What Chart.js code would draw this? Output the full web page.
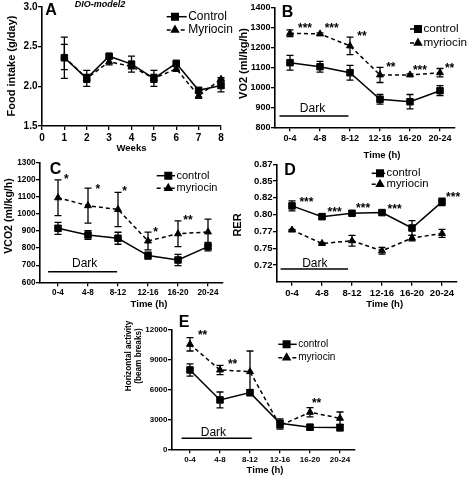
<!DOCTYPE html>
<html>
<head>
<meta charset="utf-8">
<title>DIO-model2</title>
<script src="https://cdn.jsdelivr.net/npm/chart.js@4.4.1/dist/chart.umd.min.js"></script>
<style>
  html, body { margin: 0; padding: 0; background: #fff; }
  body { position: relative; width: 469px; height: 478px; overflow: hidden; }
  canvas { position: absolute; }
</style>
</head>
<body>
<script>
// Painel A - consumo alimentar por semana
const weeks = [1, 2, 3, 4, 5, 6, 7, 8];
const weekTicks = [0, 1, 2, 3, 4, 5, 6, 7, 8];
const foodTicks = [1.5, 2.0, 2.5, 3.0];
const foodControl = [2.36, 2.10, 2.38, 2.28, 2.10, 2.29, 1.95, 2.01];
const foodControlSem = [0.26, 0.10, 0.02, 0.10, 0.10, 0.02, 0.03, 0.08];
const foodMyriocin = [2.37, 2.10, 2.31, 2.25, 2.10, 2.22, 1.88, 2.09];
const foodMyriocinSem = [0.16, 0.05, 0.04, 0.03, 0.05, 0.03, 0.03, 0.02];

// Paineis B-E - intervalos de 4 h
const timeBins = ['0-4', '4-8', '8-12', '12-16', '16-20', '20-24'];
const binIndex = timeBins.map((_, i) => i);

const vo2Ticks = [800, 900, 1000, 1100, 1200, 1300, 1400];
const vo2Control = [1123, 1103, 1073, 940, 928, 983];
const vo2ControlSem = [37, 27, 37, 24, 36, 25];
const vo2Myriocin = [1270, 1267, 1207, 1062, 1062, 1073];
const vo2MyriocinSem = [17, 5, 44, 38, 5, 21];

const vco2Ticks = [600, 700, 800, 900, 1000, 1100, 1200, 1300];
const vco2Control = [915, 876, 857, 756, 730, 808];
const vco2ControlSem = [35, 26, 35, 20, 33, 25];
const vco2Myriocin = [1093, 1047, 1025, 841, 883, 894];
const vco2MyriocinSem = [104, 102, 100, 52, 75, 75];

const rerTicks = [0.725, 0.75, 0.775, 0.8, 0.825, 0.85, 0.875];
const rerTickLabels = ['0.72', '0.75', '0.77', '0.80', '0.82', '0.85', '0.87'];
const rerControl = [0.813, 0.797, 0.802, 0.803, 0.780, 0.819];
const rerControlSem = [0.0075, 0.004, 0.002, 0.002, 0.011, 0.0055];
const rerMyriocin = [0.777, 0.757, 0.761, 0.746, 0.765, 0.772];
const rerMyriocinSem = [0.001, 0.001, 0.008, 0.005, 0.004, 0.006];

const activityTicks = [0, 3000, 6000, 9000, 12000];
const activityControl = [7980, 4965, 5700, 2620, 2220, 2185];
const activityControlSem = [620, 800, 300, 450, 290, 330];
const activityMyriocin = [10560, 7980, 7810, 2390, 3725, 3120];
const activityMyriocinSem = [670, 470, 2080, 370, 470, 630];

const FONT = "'Liberation Sans', Arial, Helvetica, sans-serif";

function series(label, xs, values, sem, dashed) {
  return {
    label, sem,
    data: values.map((v, i) => ({ x: xs[i], y: v })),
    borderColor: '#000', backgroundColor: '#000',
    borderWidth: 1.5, borderDash: dashed ? [4, 3] : [],
    pointStyle: dashed ? 'triangle' : 'rect',
    pointRadius: dashed ? 4 : 4.6, pointBorderWidth: 1,
    pointBackgroundColor: '#000', pointBorderColor: '#000',
    tension: 0, fill: false, clip: false
  };
}

// barras de erro (SEM)
const errorBars = {
  id: 'errorBars',
  afterDatasetsDraw(chart) {
    const ctx = chart.ctx, ys = chart.scales.y;
    ctx.save();
    ctx.strokeStyle = '#000';
    ctx.lineWidth = 1.3;
    chart.data.datasets.forEach((ds, i) => {
      chart.getDatasetMeta(i).data.forEach((pt, j) => {
        const v = ds.data[j].y, e = ds.sem[j];
        const top = ys.getPixelForValue(v + e), bot = ys.getPixelForValue(v - e);
        ctx.beginPath();
        ctx.moveTo(pt.x, top); ctx.lineTo(pt.x, bot);
        ctx.moveTo(pt.x - 3.5, top); ctx.lineTo(pt.x + 3.5, top);
        ctx.moveTo(pt.x - 3.5, bot); ctx.lineTo(pt.x + 3.5, bot);
        ctx.stroke();
      });
    });
    ctx.restore();
  }
};

// letra do painel, legenda, asteriscos, barra "Dark" e titulos dos eixos
function decor(p) {
  return {
    id: 'decor',
    afterDraw(chart) {
      const ctx = chart.ctx, xs = chart.scales.x, ys = chart.scales.y;
      const ox = p.box[0], oy = p.box[1];
      ctx.save();
      ctx.fillStyle = '#000';
      ctx.strokeStyle = '#000';

      ctx.font = `bold 16px ${FONT}`;
      ctx.textAlign = 'center';
      ctx.textBaseline = 'middle';
      ctx.fillText(p.letter, p.letterAt[0] - ox, p.letterAt[1] - oy);

      if (p.subtitle) {
        ctx.font = `italic bold 9px ${FONT}`;
        ctx.fillText(p.subtitle, p.subtitleAt[0] - ox, p.subtitleAt[1] - oy);
      }

      // titulos
      ctx.font = `bold 9.5px ${FONT}`;
      ctx.fillText(p.xTitle, p.xTitleAt[0] - ox, p.xTitleAt[1] - oy);
      ctx.font = `bold ${p.yTitleSize || 11}px ${FONT}`;
      const yt = Array.isArray(p.yTitle) ? p.yTitle : [p.yTitle];
      const gap = p.yTitleGap || 0;
      yt.forEach((t, k) => {
        ctx.save();
        ctx.translate(p.yTitleAt[0] - ox + k * gap, p.yTitleAt[1] - oy);
        ctx.rotate(-Math.PI / 2);
        ctx.fillText(t, 0, 0);
        ctx.restore();
      });

      // legenda
      const lg = p.legend;
      chart.data.datasets.forEach((ds, i) => {
        const lx = lg.x - ox, ly = lg.y[i] - oy;
        ctx.lineWidth = 1.5;
        ctx.setLineDash(ds.borderDash);
        ctx.beginPath(); ctx.moveTo(lx, ly); ctx.lineTo(lx + lg.len, ly); ctx.stroke();
        ctx.setLineDash([]);
        Chart.helpers.drawPoint(ctx, { pointStyle: ds.pointStyle, radius: ds.pointRadius, borderWidth: 1, rotation: 0 }, lx + lg.mark, ly);
        ctx.font = `${lg.size}px ${FONT}`;
        ctx.textAlign = 'left';
        ctx.fillText(ds.label, lx + lg.len + 1.5, ly);
      });

      // asteriscos
      ctx.font = `bold 12px ${FONT}`;
      ctx.textAlign = 'center';
      ctx.textBaseline = 'alphabetic';
      (p.stars || []).forEach(([sx, sy, txt]) => {
        ctx.fillText(txt, xs.getPixelForValue(sx), ys.getPixelForValue(sy) + 7);
      });

      // periodo escuro
      if (p.dark) {
        const d = p.dark;
        ctx.lineWidth = 1.5;
        ctx.beginPath();
        ctx.moveTo(xs.getPixelForValue(d.from), ys.getPixelForValue(d.y));
        ctx.lineTo(xs.getPixelForValue(d.to), ys.getPixelForValue(d.y));
        ctx.stroke();
        ctx.font = `12px ${FONT}`;
        ctx.textBaseline = 'middle';
        ctx.fillText('Dark', xs.getPixelForValue(d.textX), ys.getPixelForValue(d.textY));
      }
      ctx.restore();
    }
  };
}

function makePanel(p) {
  const [bx, by, bw, bh] = p.box;
  const [al, at, ar, ab] = p.area;
  const xHeight = 22;
  const canvas = document.createElement('canvas');
  canvas.width = bw; canvas.height = bh;
  canvas.style.left = bx + 'px';
  canvas.style.top = by + 'px';
  document.body.appendChild(canvas);

  const tickFont = { family: FONT, size: p.tickSize, weight: 'bold' };
  const axis = (range, values, labels, pad) => ({
    type: 'linear', min: range[0], max: range[1],
    afterBuildTicks: s => { s.ticks = values.map(v => ({ value: v })); },
    ticks: { color: '#000', font: tickFont, padding: pad, autoSkip: false, maxRotation: 0, minRotation: 0,
             callback: (v, i) => labels[i] },
    grid: { display: true, drawOnChartArea: false, drawTicks: true, tickLength: 4, color: '#000', lineWidth: 1.3 },
    border: { display: true, color: '#000', width: 1.6 }
  });
  const x = axis(p.xRange, p.xTicks, p.xLabels, 2);
  x.afterFit = s => { s.height = xHeight; };
  const y = axis(p.yRange, p.yTicks, p.yLabels, 0.5);
  y.afterFit = s => { s.width = al - bx; };

  new Chart(canvas, {
    type: 'line',
    data: { datasets: p.datasets },
    options: {
      responsive: false, animation: false, devicePixelRatio: 1,
      layout: { padding: { left: 0, top: at - by, right: bx + bw - ar, bottom: by + bh - ab - xHeight } },
      plugins: { legend: { display: false }, tooltip: { enabled: false } },
      scales: { x, y }
    },
    plugins: [errorBars, decor(p)]
  });
}

const binLabels = timeBins;

makePanel({
  box: [0, 0, 235, 165], area: [42, 7, 221, 126], tickSize: 10,
  xRange: [0, 8], xTicks: weekTicks, xLabels: weekTicks.map(String),
  yRange: [1.5, 3.0], yTicks: foodTicks, yLabels: foodTicks.map(v => v.toFixed(1)),
  datasets: [
    series('Control', weeks, foodControl, foodControlSem, false),
    series('Myriocin', weeks, foodMyriocin, foodMyriocinSem, true)
  ],
  letter: 'A', letterAt: [51, 11], subtitle: 'DIO-model2', subtitleAt: [100, 5],
  xTitle: 'Weeks', xTitleAt: [131.5, 148.5], yTitle: 'Food intake (g/day)', yTitleAt: [12, 66],
  legend: { x: 166.7, y: [16.7, 30], len: 20, mark: 8.3, size: 12 }
});

makePanel({
  box: [235, 0, 234, 165], area: [275, 7.3, 455, 127.3], tickSize: 9,
  xRange: [-0.5, 5.5], xTicks: binIndex, xLabels: binLabels,
  yRange: [800, 1400], yTicks: vo2Ticks, yLabels: vo2Ticks.map(String),
  datasets: [
    series('control', binIndex, vo2Control, vo2ControlSem, false),
    series('myriocin', binIndex, vo2Myriocin, vo2MyriocinSem, true)
  ],
  letter: 'B', letterAt: [287.5, 12.5],
  xTitle: 'Time (h)', xTitleAt: [382, 155], yTitle: 'VO2 (ml/kg/h)', yTitleAt: [244, 63.5],
  legend: { x: 410, y: [29, 43], len: 12, mark: 8, size: 11.7 },
  stars: [[0.5, 1312, '***'], [1.39, 1312, '***'], [2.4, 1270, '**'], [3.36, 1115, '**'], [4.33, 1103, '***'], [5.32, 1112, '**']],
  dark: { from: -0.35, to: 1.95, y: 857, textX: 0.75, textY: 895 }
});

makePanel({
  box: [0, 155, 235, 165], area: [40, 162.3, 223, 282.3], tickSize: 8.2, yTitleSize: 10.5,
  xRange: [-0.6, 5.5], xTicks: binIndex, xLabels: binLabels,
  yRange: [600, 1300], yTicks: vco2Ticks, yLabels: vco2Ticks.map(String),
  datasets: [
    series('control', binIndex, vco2Control, vco2ControlSem, false),
    series('myriocin', binIndex, vco2Myriocin, vco2MyriocinSem, true)
  ],
  letter: 'C', letterAt: [55.5, 170],
  xTitle: 'Time (h)', xTitleAt: [149, 304.3], yTitle: 'VCO2 (ml/kg/h)', yTitleAt: [9.5, 216],
  legend: { x: 156.7, y: [175.7, 188.3], len: 18.3, mark: 11.6, size: 11 },
  stars: [[0.28, 1222, '*'], [1.33, 1164, '*'], [2.22, 1148, '*'], [3.25, 911, '*'], [4.33, 983, '**']],
  dark: { from: -0.33, to: 1.97, y: 662, textX: 0.89, textY: 711 }
});

makePanel({
  box: [225, 155, 244, 165], area: [277, 164.3, 457, 281.7], tickSize: 9.5,
  xRange: [-0.5, 5.5], xTicks: binIndex, xLabels: binLabels,
  yRange: [0.70, 0.875], yTicks: rerTicks, yLabels: rerTickLabels,
  datasets: [
    series('control', binIndex, rerControl, rerControlSem, false),
    series('myriocin', binIndex, rerMyriocin, rerMyriocinSem, true)
  ],
  letter: 'D', letterAt: [290, 170.5],
  xTitle: 'Time (h)', xTitleAt: [384.7, 304.3], yTitle: 'RER', yTitleAt: [238, 225],
  legend: { x: 371.7, y: [173.3, 184.3], len: 13.3, mark: 8.3, size: 11.3 },
  stars: [[0.48, 0.824, '***'], [1.42, 0.809, '***'], [2.37, 0.815, '***'], [3.42, 0.813, '***'], [5.37, 0.830, '***']],
  dark: { from: -0.38, to: 1.87, y: 0.719, textX: 0.76, textY: 0.7275 }
});

makePanel({
  box: [110, 315, 260, 163], area: [172, 330, 355, 449.3], tickSize: 8, yTitleSize: 8.2,
  xRange: [-0.6, 5.5], xTicks: binIndex, xLabels: binLabels,
  yRange: [0, 12000], yTicks: activityTicks, yLabels: activityTicks.map(String),
  datasets: [
    series('control', binIndex, activityControl, activityControlSem, false),
    series('myriocin', binIndex, activityMyriocin, activityMyriocinSem, true)
  ],
  letter: 'E', letterAt: [184, 322.5],
  xTitle: 'Time (h)', xTitleAt: [265, 470],
  yTitle: ['Horizontal activity', '(beam breaks)'], yTitleAt: [129, 356], yTitleGap: 10,
  legend: { x: 278.3, y: [344.3, 357.7], len: 18.4, mark: 8.3, size: 10 },
  stars: [[0.42, 11790, '**'], [1.42, 8885, '**'], [4.22, 4965, '**']],
  dark: { from: -0.28, to: 2.06, y: 1110, textX: 0.78, textY: 1715 }
});
</script>
</body>
</html>
